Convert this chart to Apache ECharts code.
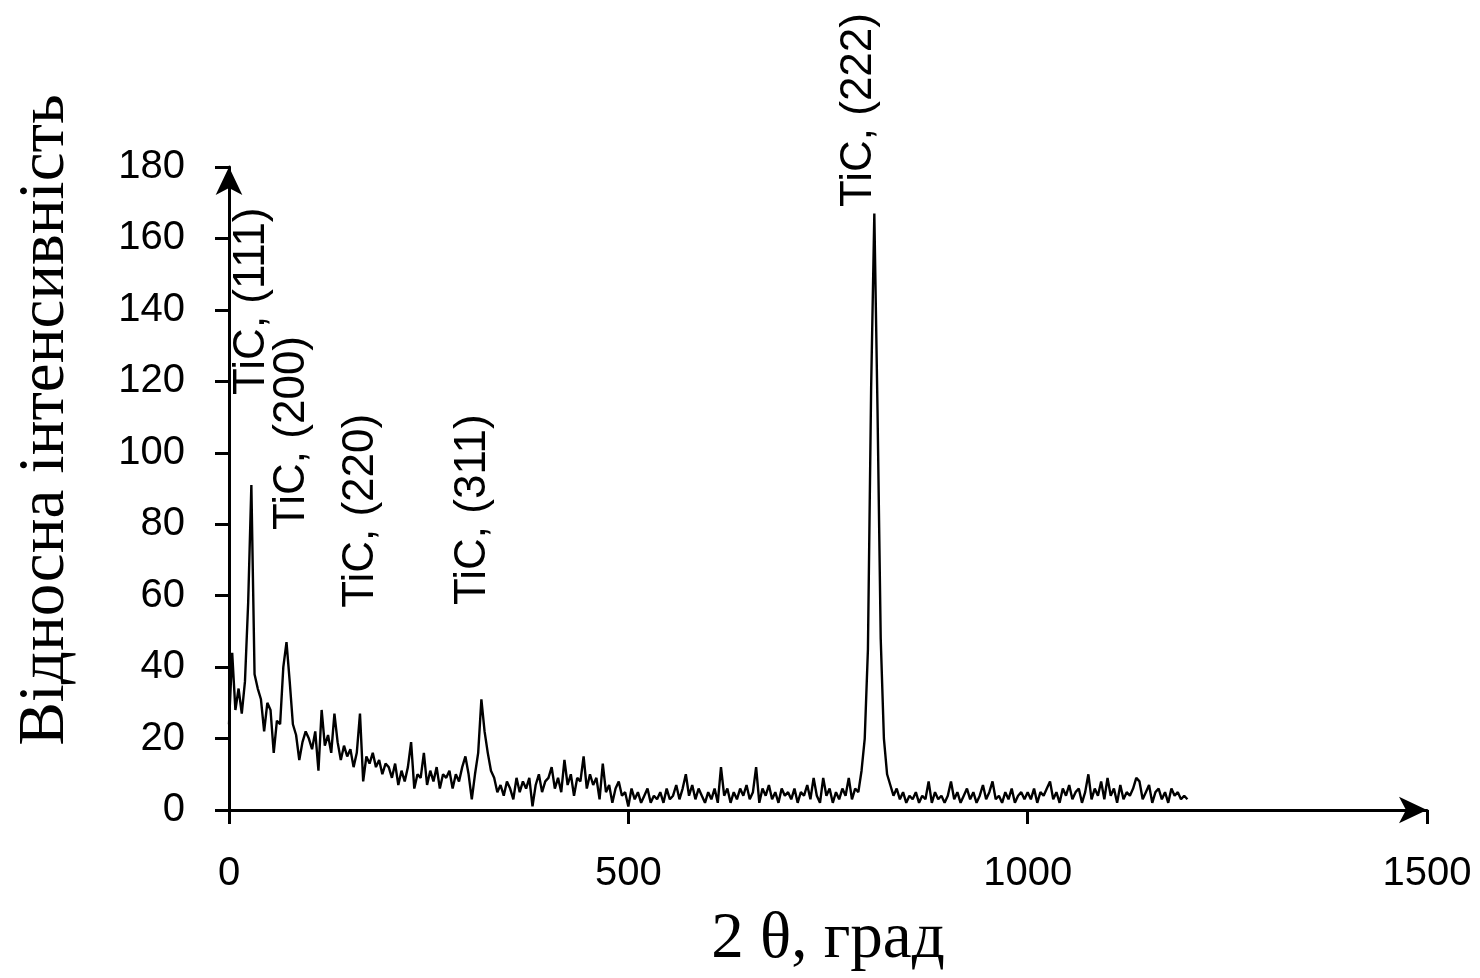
<!DOCTYPE html>
<html>
<head>
<meta charset="utf-8">
<script src="https://cdn.jsdelivr.net/npm/echarts@6/dist/echarts.min.js"></script>
<style>
  html, body { margin: 0; padding: 0; background: #fff; }
  #chart { width: 1480px; height: 978px; }
</style>
</head>
<body>
<div id="chart"></div>
<script>
// ---- data ----
const xStart = 0;      // 2θ of the first sample
const xStep = 4;       // sampling step of the digitised scan
// relative intensity, one value per 4 units of 2θ (rows of 100 units)
const intensity = [
  24, 44, 28, 34, 27, 36, 58, 91, 38, 34, 31, 22, 30, 28, 16, 25, 24, 40, 47, 36, 24, 21, 14, 19, 22,   // 0-96
  20, 17, 22, 11, 28, 18, 21, 16, 27, 19, 14, 18, 15, 17, 12, 16, 27, 8, 15, 13, 16, 12, 14, 10, 13,   // 100-196
  12, 9, 13, 7, 11, 8, 12, 19, 6, 10, 9, 16, 7, 11, 8, 12, 6, 10, 9, 11, 6, 10, 8, 12, 15,            // 200-296
  10, 3, 10, 16, 31, 22, 16, 11, 9, 5, 7, 4, 8, 6, 3, 9, 5, 8, 6, 9, 1, 7, 10, 5, 8,                  // 300-396
  9, 12, 6, 9, 5, 14, 7, 10, 4, 9, 8, 15, 6, 10, 7, 9, 3, 13, 5, 7, 2, 6, 8, 4, 5,                    // 400-496
  1, 6, 3, 5, 2, 4, 6, 2, 4, 3, 5, 2, 6, 3, 4, 7, 3, 6, 10, 4, 7, 3, 6, 4, 2,                         // 500-596
  5, 3, 6, 2, 12, 4, 6, 2, 5, 3, 6, 4, 7, 3, 5, 12, 2, 6, 4, 7, 3, 5, 2, 6, 4,                        // 600-696
  5, 3, 6, 2, 5, 4, 7, 3, 9, 4, 2, 9, 4, 6, 2, 5, 3, 6, 4, 9, 3, 6, 5, 11, 20,                        // 700-796
  45, 118, 167, 112, 48, 20, 10, 7, 4, 6, 3, 5, 2, 4, 3, 5, 2, 4, 3, 8, 2, 5, 3, 4, 2,                // 800-896
  4, 8, 3, 5, 2, 4, 6, 3, 5, 2, 4, 7, 3, 5, 8, 3, 4, 2, 5, 3, 6, 2, 4, 5, 3,                          // 900-996
  5, 3, 6, 2, 5, 4, 6, 8, 3, 5, 2, 6, 4, 7, 3, 5, 6, 2, 5, 10, 3, 6, 4, 8, 3,                         // 1000-1096
  9, 4, 6, 2, 7, 3, 5, 4, 6, 9, 8, 3, 5, 7, 2, 5, 6, 3, 5, 2, 6, 4, 5, 3, 4,                          // 1100-1196
  3                                                                                                   // 1200
];
// peak annotations (anchor = bottom of the rotated text, in data units)
const peakLabels = ['TiC, (111)', 'TiC, (200)', 'TiC, (220)', 'TiC, (311)', 'TiC, (222)'];
const peakLabelX = [28.8, 78.9, 165.3, 305.5, 788.8];
const peakLabelY = [116.2, 78.4, 56.6, 57.4, 168.8];
// axes
const xMin = 0, xMax = 1500, xInterval = 500;
const yMin = 0, yMax = 180, yInterval = 20;
const xTitle = '2 θ, град';
const yTitle = 'Відносна інтенсивність';

// ---- build ----
const lineData = intensity.map((v, i) => [xStart + i * xStep, v]);
const labelData = peakLabels.map((t, i) => ({ name: t, value: [peakLabelX[i], peakLabelY[i]] }));

const sans = '"Liberation Sans", Arial, sans-serif';
const serif = '"Liberation Serif", "Times New Roman", serif';

const chart = echarts.init(document.getElementById('chart'), null, { renderer: 'canvas' });
chart.setOption({
  backgroundColor: '#ffffff',
  animation: false,
  grid: { left: 229, right: 53, top: 167, bottom: 168, containLabel: false },
  xAxis: {
    type: 'value',
    min: xMin, max: xMax, interval: xInterval,
    name: xTitle,
    nameLocation: 'middle',
    nameGap: 97,
    nameTextStyle: { fontFamily: serif, fontSize: 65, color: '#000', lineHeight: 65 },
    axisLine: { show: true, onZero: false, lineStyle: { color: '#000', width: 3 },
                symbol: ['none', 'arrow'], symbolSize: [20, 28], symbolOffset: [0, 0] },
    axisTick: { show: true, inside: false, length: 14, lineStyle: { color: '#000', width: 3 } },
    axisLabel: { margin: 44, fontFamily: sans, fontSize: 40, lineHeight: 40, color: '#000',
                 formatter: v => String(v) },
    splitLine: { show: false }
  },
  yAxis: {
    type: 'value',
    min: yMin, max: yMax, interval: yInterval,
    axisLine: { show: true, onZero: false, lineStyle: { color: '#000', width: 3 },
                symbol: ['none', 'arrow'], symbolSize: [20, 28], symbolOffset: [0, 0] },
    axisTick: { show: true, inside: false, length: 14, lineStyle: { color: '#000', width: 3 } },
    axisLabel: { margin: 44, fontFamily: sans, fontSize: 40, color: '#000',
                 formatter: v => String(v) },
    splitLine: { show: false }
  },
  graphic: [{
    type: 'text',
    x: 46, y: 420,
    rotation: Math.PI / 2,
    style: { text: yTitle, font: '65px ' + serif, fill: '#000', align: 'center', verticalAlign: 'middle' }
  }],
  series: [{
    type: 'line',
    data: lineData,
    showSymbol: false,
    symbol: 'none',
    lineStyle: { color: '#000', width: 2.4 },
    z: 3
  }, {
    type: 'scatter',
    data: labelData,
    symbolSize: 0,
    silent: true,
    itemStyle: { opacity: 1, color: '#000' },
    label: {
      show: true,
      formatter: p => p.name,
      position: [0, 0],
      rotate: 90,
      align: 'left',
      verticalAlign: 'middle',
      fontFamily: sans,
      fontSize: 44,
      color: '#000',
      opacity: 1,
      textBorderWidth: 0
    },
    z: 4
  }]
});
</script>
</body>
</html>
